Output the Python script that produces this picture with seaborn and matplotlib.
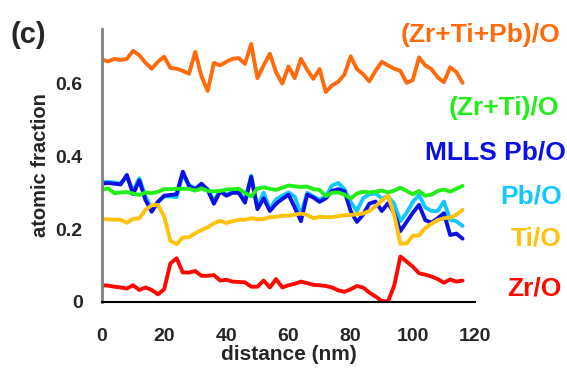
import numpy as np
import pandas as pd
import matplotlib
matplotlib.use("Agg")
import matplotlib.pyplot as plt
import seaborn as sns
from matplotlib.ticker import MultipleLocator

distance = [0, 2, 4, 6, 8, 10, 12, 14, 16, 18, 20, 22, 24, 26, 28, 30, 32, 34, 36, 38,
            40, 42, 44, 46, 48, 50, 52, 54, 56, 58, 60, 62, 64, 66, 68, 70, 72, 74, 76, 78,
            80, 82, 84, 86, 88, 90, 92, 94, 96, 98, 100, 102, 104, 106, 108, 110, 112, 114, 116]

zrtipb_o = [0.666, 0.661, 0.668, 0.665, 0.668, 0.690, 0.678, 0.657, 0.641, 0.660,
            0.674, 0.643, 0.641, 0.635, 0.627, 0.687, 0.620, 0.580, 0.657, 0.650,
            0.660, 0.668, 0.670, 0.654, 0.709, 0.615, 0.650, 0.682, 0.631, 0.600,
            0.647, 0.615, 0.668, 0.638, 0.613, 0.640, 0.577, 0.595, 0.605, 0.625,
            0.675, 0.640, 0.626, 0.606, 0.635, 0.660, 0.650, 0.641, 0.635, 0.602,
            0.610, 0.672, 0.650, 0.640, 0.617, 0.604, 0.645, 0.632, 0.602]

zrti_o = [0.308, 0.312, 0.299, 0.301, 0.302, 0.298, 0.294, 0.301, 0.299, 0.303,
          0.310, 0.310, 0.311, 0.311, 0.311, 0.306, 0.312, 0.305, 0.304, 0.305,
          0.309, 0.310, 0.311, 0.300, 0.290, 0.312, 0.315, 0.311, 0.308, 0.314,
          0.320, 0.318, 0.316, 0.317, 0.310, 0.308, 0.291, 0.300, 0.301, 0.295,
          0.284, 0.298, 0.303, 0.301, 0.303, 0.306, 0.301, 0.306, 0.314, 0.305,
          0.296, 0.305, 0.292, 0.295, 0.305, 0.309, 0.303, 0.311, 0.319]

mlls_pb_o = [0.325, 0.327, 0.325, 0.323, 0.349, 0.296, 0.334, 0.280, 0.248, 0.275,
             0.292, 0.294, 0.296, 0.358, 0.318, 0.310, 0.325, 0.308, 0.270, 0.304,
             0.292, 0.300, 0.300, 0.273, 0.344, 0.255, 0.285, 0.250, 0.270, 0.283,
             0.295, 0.260, 0.222, 0.295, 0.287, 0.275, 0.285, 0.305, 0.310, 0.304,
             0.250, 0.220, 0.240, 0.270, 0.276, 0.250, 0.271, 0.245, 0.195, 0.220,
             0.245, 0.267, 0.225, 0.218, 0.230, 0.244, 0.184, 0.188, 0.174]

pb_o = [0.330, 0.330, 0.328, 0.325, 0.345, 0.305, 0.340, 0.290, 0.255, 0.275,
        0.290, 0.290, 0.288, 0.352, 0.322, 0.312, 0.322, 0.310, 0.278, 0.306,
        0.295, 0.302, 0.303, 0.280, 0.347, 0.262, 0.300, 0.255, 0.282, 0.292,
        0.301, 0.290, 0.240, 0.300, 0.290, 0.281, 0.290, 0.320, 0.327, 0.310,
        0.275, 0.250, 0.285, 0.296, 0.298, 0.285, 0.290, 0.270, 0.222, 0.245,
        0.275, 0.294, 0.260, 0.250, 0.250, 0.276, 0.226, 0.222, 0.209]

ti_o = [0.228, 0.227, 0.226, 0.226, 0.218, 0.228, 0.230, 0.253, 0.266, 0.267,
        0.235, 0.168, 0.159, 0.177, 0.178, 0.189, 0.198, 0.205, 0.216, 0.223,
        0.217, 0.222, 0.226, 0.226, 0.230, 0.228, 0.228, 0.233, 0.234, 0.237,
        0.237, 0.240, 0.243, 0.239, 0.230, 0.234, 0.233, 0.233, 0.236, 0.238,
        0.239, 0.241, 0.243, 0.250, 0.263, 0.279, 0.292, 0.240, 0.160, 0.161,
        0.182, 0.183, 0.203, 0.215, 0.225, 0.230, 0.232, 0.240, 0.253]

zr_o = [0.046, 0.045, 0.042, 0.040, 0.037, 0.046, 0.033, 0.040, 0.033, 0.021,
        0.035, 0.106, 0.120, 0.081, 0.081, 0.085, 0.072, 0.072, 0.074, 0.059,
        0.061, 0.056, 0.055, 0.054, 0.042, 0.042, 0.059, 0.040, 0.063, 0.040,
        0.046, 0.050, 0.056, 0.052, 0.047, 0.046, 0.044, 0.040, 0.032, 0.028,
        0.035, 0.044, 0.040, 0.026, 0.015, 0.003, 0.001, 0.045, 0.125, 0.111,
        0.097, 0.079, 0.075, 0.070, 0.063, 0.053, 0.062, 0.056, 0.059]

series_names = ["Pb/O", "MLLS Pb/O", "(Zr+Ti)/O", "Ti/O", "Zr/O", "(Zr+Ti+Pb)/O"]
series_values = [pb_o, mlls_pb_o, zrti_o, ti_o, zr_o, zrtipb_o]
series_colors = ["#12C8FF", "#0A10E6", "#22EE18", "#FFC20A", "#FF0800", "#FF6A0A"]

x_ticks = [0, 20, 40, 60, 80, 100, 120]
y_ticks = [0.0, 0.2, 0.4, 0.6]
y_tick_labels = ["0", "0.2", "0.4", "0.6"]

rows = []
for name, vals in zip(series_names, series_values):
    for d, v in zip(distance, vals):
        rows.append({"distance": d, "value": v, "series": name})
df = pd.DataFrame(rows)

sns.set_style("white")
plt.rcParams["font.family"] = ["Liberation Sans", "DejaVu Sans"]
plt.rcParams["font.weight"] = "bold"

W, H = 567, 376
fig = plt.figure(figsize=(W / 100, H / 100), dpi=100)
ax = fig.add_axes([102 / W, 1 - 302 / H, (475 - 102) / W, (302 - 29) / H])

sns.lineplot(data=df, x="distance", y="value", hue="series", hue_order=series_names,
             palette=dict(zip(series_names, series_colors)), linewidth=2.8,
             legend=False, ax=ax, sort=False)

ax.set_xlim(0, 120)
ax.set_ylim(0, 0.75)
ax.set_xticks(x_ticks)
ax.set_yticks(y_ticks)
ax.set_yticklabels(y_tick_labels)
ax.xaxis.set_minor_locator(MultipleLocator(10))
ax.yaxis.set_minor_locator(MultipleLocator(0.1))

for s in ["top", "right"]:
    ax.spines[s].set_visible(False)
ax.spines["left"].set_color("#808080")
ax.spines["left"].set_linewidth(2.0)
ax.spines["bottom"].set_color("black")
ax.spines["bottom"].set_linewidth(1.5)

ax.tick_params(axis="both", which="major", direction="out", length=5, width=1.0,
               color="black", labelsize=14)
ax.tick_params(axis="both", which="minor", direction="out", length=4, width=1.0,
               color="black")
ax.tick_params(axis="x", which="major", length=6, pad=13)
ax.tick_params(axis="y", which="major", pad=9)
for lbl in ax.get_xticklabels() + ax.get_yticklabels():
    lbl.set_fontweight("bold")

ax.set_xlabel("distance (nm)", fontsize=15, fontweight="bold", labelpad=0)
ax.set_ylabel("atomic fraction", fontsize=14.5, fontweight="bold", labelpad=4)

label_pos = {
    "(Zr+Ti+Pb)/O": (560, 35),
    "(Zr+Ti)/O": (559, 108),
    "MLLS Pb/O": (566, 153),
    "Pb/O": (562, 197),
    "Ti/O": (562, 239),
    "Zr/O": (562, 288),
}
for name, color in zip(series_names, series_colors):
    px, py = label_pos[name]
    fig.text(px / W, 1 - py / H, name, color=color, fontsize=19, fontweight="bold",
             ha="right", va="center")

fig.text(10 / W, 1 - 35 / H, "(c)", fontsize=21, fontweight="bold", ha="left", va="center")

fig.savefig("out.png", dpi=100)
